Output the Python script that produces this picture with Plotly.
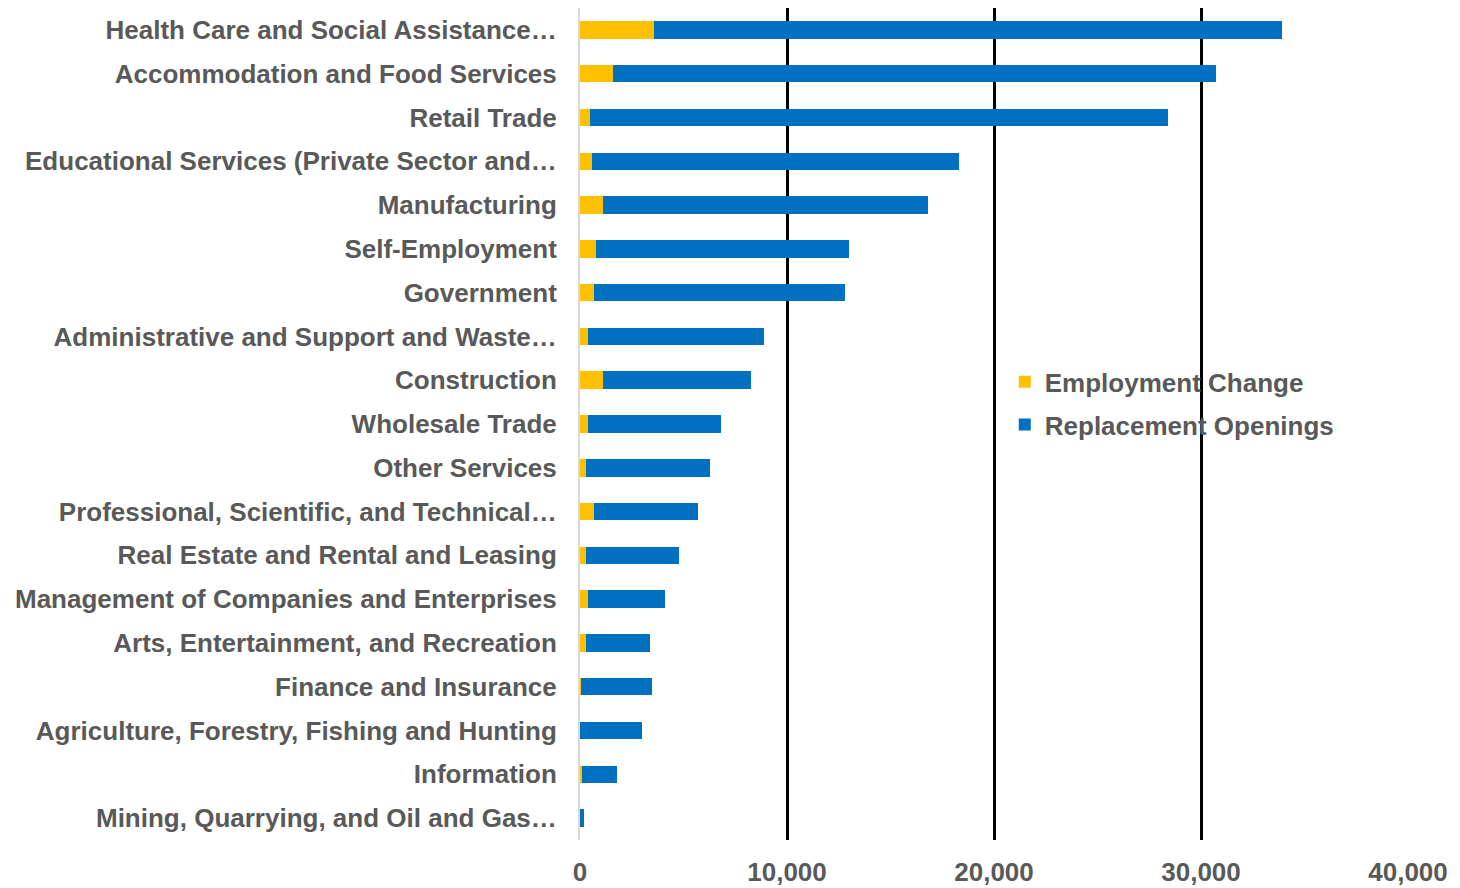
import plotly.graph_objects as go

# industries, top to bottom as shown
industries = [
    "Health Care and Social Assistance…",
    "Accommodation and Food Services",
    "Retail Trade",
    "Educational Services (Private Sector and…",
    "Manufacturing",
    "Self-Employment",
    "Government",
    "Administrative and Support and Waste…",
    "Construction",
    "Wholesale Trade",
    "Other Services",
    "Professional, Scientific, and Technical…",
    "Real Estate and Rental and Leasing",
    "Management of Companies and Enterprises",
    "Arts, Entertainment, and Recreation",
    "Finance and Insurance",
    "Agriculture, Forestry, Fishing and Hunting",
    "Information",
    "Mining, Quarrying, and Oil and Gas…",
]

employment_change = [3590, 1580, 483, 580, 1095, 773, 676, 386, 1095, 386,
                     290, 676, 290, 386, 275, 30, 0, 80, 10]
replacement_openings = [30323, 29130, 27923, 17713, 15702, 12222, 12111, 8503, 7182, 6409,
                        5990, 5008, 4493, 3704, 3107, 3448, 2980, 1707, 167]

x_ticks = [0, 10000, 20000, 30000, 40000]

GRAY = "#595959"
FONT = "Liberation Sans, Arial, sans-serif"
SIZE = 26

fig = go.Figure()
fig.add_trace(go.Bar(
    y=industries, x=employment_change, orientation="h",
    name="Employment Change", legendgroup="a",
    marker=dict(color="#FFC000", line=dict(width=0)),
))
fig.add_trace(go.Bar(
    y=industries, x=replacement_openings, orientation="h",
    name="Replacement Openings", legendgroup="b",
    marker=dict(color="#0070C0", line=dict(width=0)),
))

# page body has an 8px margin, so the figure is 1452x880
fig.update_layout(
    barmode="stack",
    bargap=0.6,
    width=1452, height=880,
    margin=dict(l=572, r=52, t=0, b=48),
    plot_bgcolor="white",
    paper_bgcolor="white",
    font=dict(family=FONT, size=SIZE, color=GRAY, weight="bold"),
    legend=dict(
        x=0.513, y=0.579, xanchor="left", yanchor="top",
        font=dict(family=FONT, size=SIZE, color=GRAY, weight="bold"),
        traceorder="grouped", tracegroupgap=6,
        bgcolor="rgba(0,0,0,0)",
        itemwidth=30,
    ),
    xaxis=dict(
        range=[0, 40000],
        tickvals=x_ticks,
        tickformat=",",
        showgrid=True, gridcolor="black", gridwidth=2.5,
        zeroline=False,
        showline=False,
        ticks="",
        ticklabelstandoff=14,
        tickfont=dict(family=FONT, size=SIZE, color=GRAY, weight="bold"),
    ),
    yaxis=dict(
        categoryorder="array",
        categoryarray=industries,
        autorange="reversed",
        showgrid=False,
        showline=True, linecolor="#D9D9D9", linewidth=2,
        ticks="",
        ticklabelstandoff=16,
        tickfont=dict(family=FONT, size=SIZE, color=GRAY, weight="bold"),
    ),
)

fig.write_html("out.html")
